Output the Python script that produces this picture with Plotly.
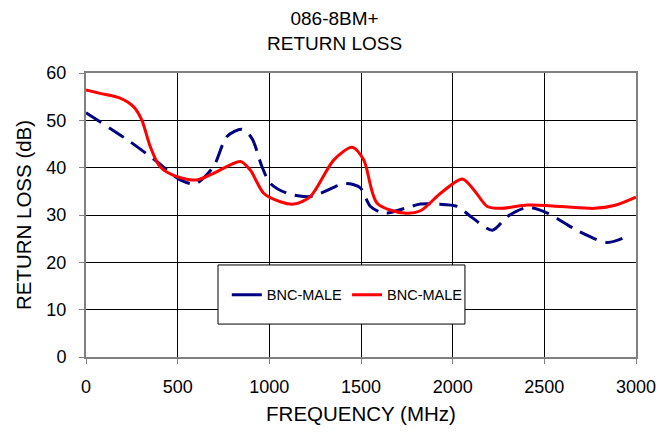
import plotly.graph_objects as go

blue_f = [0, 240, 386, 514, 596, 695, 769, 851, 905, 960, 1005, 1097, 1224, 1406, 1461, 1497, 1552, 1607, 1643, 1825, 1916, 2025, 2098, 2217, 2299, 2408, 2517, 2681, 2845, 2970]
blue_db = [51.6, 45.5, 41.3, 37.4, 36.6, 40.2, 46.6, 48.1, 46.2, 40.2, 36.7, 34.6, 33.9, 36.6, 36.4, 35.7, 31.8, 30.6, 30.4, 32.3, 32.3, 31.8, 29.7, 26.8, 29.7, 31.6, 30.4, 26.7, 24.2, 25.8]

red_f = [0, 77, 186, 259, 304, 350, 404, 496, 605, 696, 842, 896, 969, 1060, 1133, 1224, 1351, 1452, 1515, 1588, 1734, 1825, 1934, 2053, 2116, 2189, 2262, 2408, 2590, 2772, 2881, 3000]
red_db = [56.4, 55.7, 54.7, 52.9, 50.1, 44.5, 40.2, 38.1, 37.4, 38.8, 41.3, 39.5, 34.6, 32.8, 32.3, 33.9, 41.6, 44.3, 41.6, 32.5, 30.4, 30.9, 34.6, 37.6, 35.3, 31.8, 31.4, 32.1, 31.8, 31.4, 32.0, 33.8]

series_names = ["BNC-MALE", "BNC-MALE"]
x_ticks = [0, 500, 1000, 1500, 2000, 2500, 3000]
y_ticks = [0, 10, 20, 30, 40, 50, 60]

FONT = "Liberation Sans, Arial, sans-serif"
BLUE = "#000080"
RED = "#ff0000"

fig = go.Figure()
fig.add_trace(go.Scatter(x=blue_f, y=blue_db, name=series_names[0], mode="lines", showlegend=False,
                         line=dict(color=BLUE, width=3, dash="18px,9px", shape="spline", smoothing=0.8)))
fig.add_trace(go.Scatter(x=red_f, y=red_db, name=series_names[1], mode="lines", showlegend=False,
                         line=dict(color=RED, width=3, shape="spline", smoothing=0.8)))
# legend entries (solid swatches as in the reference legend)
fig.add_trace(go.Scatter(x=[None], y=[None], name=series_names[0], mode="lines",
                         line=dict(color=BLUE, width=3)))
fig.add_trace(go.Scatter(x=[None], y=[None], name=series_names[1], mode="lines",
                         line=dict(color=RED, width=3)))

fig.add_shape(type="rect", xref="paper", yref="paper", x0=0.24, x1=0.689, y0=0.116, y1=0.324,
              line=dict(color="black", width=1), fillcolor="white", layer="above")

fig.update_layout(
    width=672, height=432,
    margin=dict(l=78, r=44, t=65, b=83),
    paper_bgcolor="white", plot_bgcolor="white",
    font=dict(family=FONT, size=18, color="black"),
    title=dict(text="086-8BM+<br>RETURN LOSS", x=0.486, xanchor="center", y=0.961, yanchor="top",
               font=dict(family=FONT, size=19, color="black")),
    showlegend=True,
    legend=dict(orientation="h", x=0.256, xanchor="left", y=0.219, yanchor="middle",
                bgcolor="rgba(0,0,0,0)", font=dict(family=FONT, size=14.5, color="black"),
                traceorder="normal"),
    xaxis=dict(range=[0, 3000], tickvals=x_ticks, ticktext=[str(v) for v in x_ticks],
               showgrid=True, gridcolor="black", gridwidth=1, zeroline=False,
               showline=True, linecolor="#808080", linewidth=2, mirror=True,
               ticks="outside", ticklen=5, tickcolor="#808080", ticklabelstandoff=7,
               title=dict(text="FREQUENCY (MHz)", standoff=11, font=dict(size=20.5)),
               tickfont=dict(size=18)),
    yaxis=dict(range=[0, 60], tickvals=y_ticks, ticktext=[str(v) for v in y_ticks],
               showgrid=True, gridcolor="black", gridwidth=1, zeroline=False,
               showline=True, linecolor="#808080", linewidth=2, mirror=True,
               ticks="outside", ticklen=5, tickcolor="#808080", ticklabelstandoff=9,
               title=dict(text="RETURN LOSS (dB)", standoff=9, font=dict(size=20.5)),
               tickfont=dict(size=18)),
)

fig.write_html("out.html")
